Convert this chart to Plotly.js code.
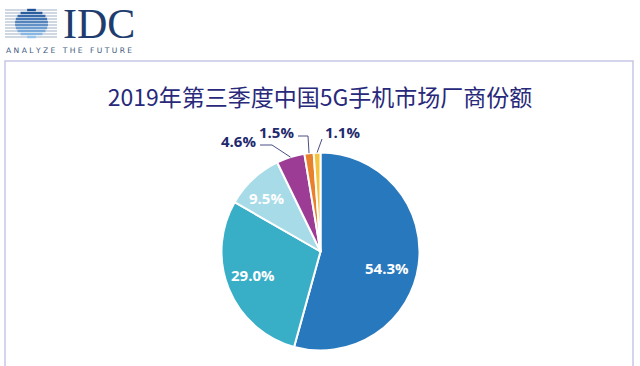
<!DOCTYPE html>
<html>
<head>
<meta charset="utf-8">
<script src="https://cdn.plot.ly/plotly-3.0.1.min.js"></script>
<style>
  html, body { margin: 0; padding: 0; background: #ffffff; }
  #chart { width: 640px; height: 366px; }
</style>
</head>
<body>
<div id="chart"></div>
<script>
// ---- data ----
const chartTitle = "2019年第三季度中国5G手机市场厂商份额";
const vendors = ["厂商A", "厂商B", "厂商C", "厂商D", "厂商E", "厂商F"];
const shares = [54.3, 29.0, 9.5, 4.6, 1.5, 1.1];
const sliceColors = ["#2878bd", "#38aec7", "#a8dbe8", "#9c3c95", "#e8802c", "#f4c43c"];
const insideLabel = [true, true, true, false, false, false];

// ---- geometry of the page (pixels) ----
const W = 640, H = 366;
const pieCx = 320.5, pieCy = 251.5, pieR = 99;
const px = x => x / W;
const py = y => 1 - y / H;

const navy = "#1f2a6e";
const labelFont = "Open Sans, Arial, sans-serif";

// inside label placement: angle offset from slice middle (deg) and radius fraction
const insidePlace = {
  0: { dAng: 6.3, rf: 0.69 },
  1: { dAng: 3.1, rf: 0.72 },
  2: { dAng: -2.0, rf: 0.765 }
};
// outside label placement (pixels): text anchor and elbow of leader line
const outsideLabels = {
  3: { tx: 258, ty: 141, xanchor: "right", elbow: [[272, 145], [260, 145]] },
  4: { tx: 296, ty: 132, xanchor: "right", elbow: [[308, 136], [298, 136]] },
  5: { tx: 323, ty: 132, xanchor: "left",  elbow: [[322, 139]] }
};

// slice mid angles computed from the data (clockwise from 12 o'clock)
const total = shares.reduce((a, b) => a + b, 0);
let cum = 0;
const midAngles = shares.map(v => { const m = (cum + v / 2) / total * 360; cum += v; return m; });

const shapes = [];
const annotations = [];

// frame box
shapes.push({ type: "rect", xref: "paper", yref: "paper",
  x0: px(5), x1: px(633), y0: py(372), y1: py(61),
  line: { color: "#c6c6e6", width: 1.5 }, fillcolor: "rgba(0,0,0,0)" });

// labels
shares.forEach((v, i) => {
  const txt = "<b>" + v.toFixed(1) + "%</b>";
  if (insideLabel[i]) {
    const p = insidePlace[i];
    const a = (midAngles[i] + p.dAng) * Math.PI / 180;
    const lx = pieCx + p.rf * pieR * Math.sin(a), ly = pieCy - p.rf * pieR * Math.cos(a);
    annotations.push({ xref: "paper", yref: "paper", x: px(lx), y: py(ly),
      xanchor: "center", yanchor: "middle", showarrow: false, text: txt,
      font: { family: labelFont, size: 15, color: "#ffffff" } });
    return;
  }
  const o = outsideLabels[i];
  const a = midAngles[i] * Math.PI / 180;
  const ax = pieCx + pieR * Math.sin(a), ay = pieCy - pieR * Math.cos(a);
  let path = `M ${px(ax)},${py(ay)}`;
  o.elbow.forEach(q => { path += ` L ${px(q[0])},${py(q[1])}`; });
  shapes.push({ type: "path", xref: "paper", yref: "paper", path,
    line: { color: "#4a4f86", width: 1 } });
  annotations.push({ xref: "paper", yref: "paper", x: px(o.tx), y: py(o.ty),
    xanchor: o.xanchor, yanchor: "middle", showarrow: false, text: txt,
    font: { family: labelFont, size: 15, color: navy } });
});

// ---- IDC logo (decoration) ----
const gCx = 31.5, gCy = 23.5, gRx = 16.5, gRy = 14;
for (let y = 10; y <= 37; y += 3) {
  shapes.push({ type: "line", xref: "paper", yref: "paper",
    x0: px(5), x1: px(57), y0: py(y), y1: py(y), line: { color: "#9fb0c4", width: 1 } });
  const t = (y - gCy) / gRy;
  if (Math.abs(t) < 1) {
    const hw = gRx * Math.sqrt(1 - t * t);
    const f = (y - 10) / 27;
    const c1 = [30, 80, 150], c2 = [150, 196, 235];
    const col = `rgb(${c1.map((c, k) => Math.round(c + (c2[k] - c) * f)).join(",")})`;
    shapes.push({ type: "line", xref: "paper", yref: "paper",
      x0: px(gCx - hw), x1: px(gCx + hw), y0: py(y), y1: py(y), line: { color: col, width: 2.4 } });
  }
}
annotations.push({ xref: "paper", yref: "paper", x: px(61), y: py(24), xanchor: "left", yanchor: "middle",
  showarrow: false, text: "IDC", font: { family: "Liberation Serif, serif", size: 42, color: "#1e3c6e" } });
annotations.push({ xref: "paper", yref: "paper", x: px(4), y: py(50), xanchor: "left", yanchor: "middle",
  showarrow: false, text: "A N A L Y Z E   T H E   F U T U R E",
  font: { family: "DejaVu Sans, sans-serif", size: 7.6, color: "#3d5a80" } });

const trace = {
  type: "pie",
  labels: vendors,
  values: shares,
  sort: false,
  direction: "clockwise",
  rotation: 0,
  marker: { colors: sliceColors, line: { color: "#ffffff", width: 2 } },
  textinfo: "none",
  hoverinfo: "label+percent",
  domain: { x: [px(pieCx - pieR), px(pieCx + pieR)], y: [py(pieCy + pieR), py(pieCy - pieR)] },
  showlegend: false
};

const layout = {
  width: W, height: H,
  margin: { l: 0, r: 0, t: 0, b: 0 },
  paper_bgcolor: "#ffffff",
  showlegend: false,
  title: { text: chartTitle, x: px(320), xanchor: "center", y: py(98), yanchor: "middle",
    font: { family: "Noto Sans CJK SC, sans-serif", size: 23, color: "#28297a" } },
  shapes, annotations
};

Plotly.newPlot("chart", [trace], layout, { displayModeBar: false, staticPlot: true });
</script>
</body>
</html>
